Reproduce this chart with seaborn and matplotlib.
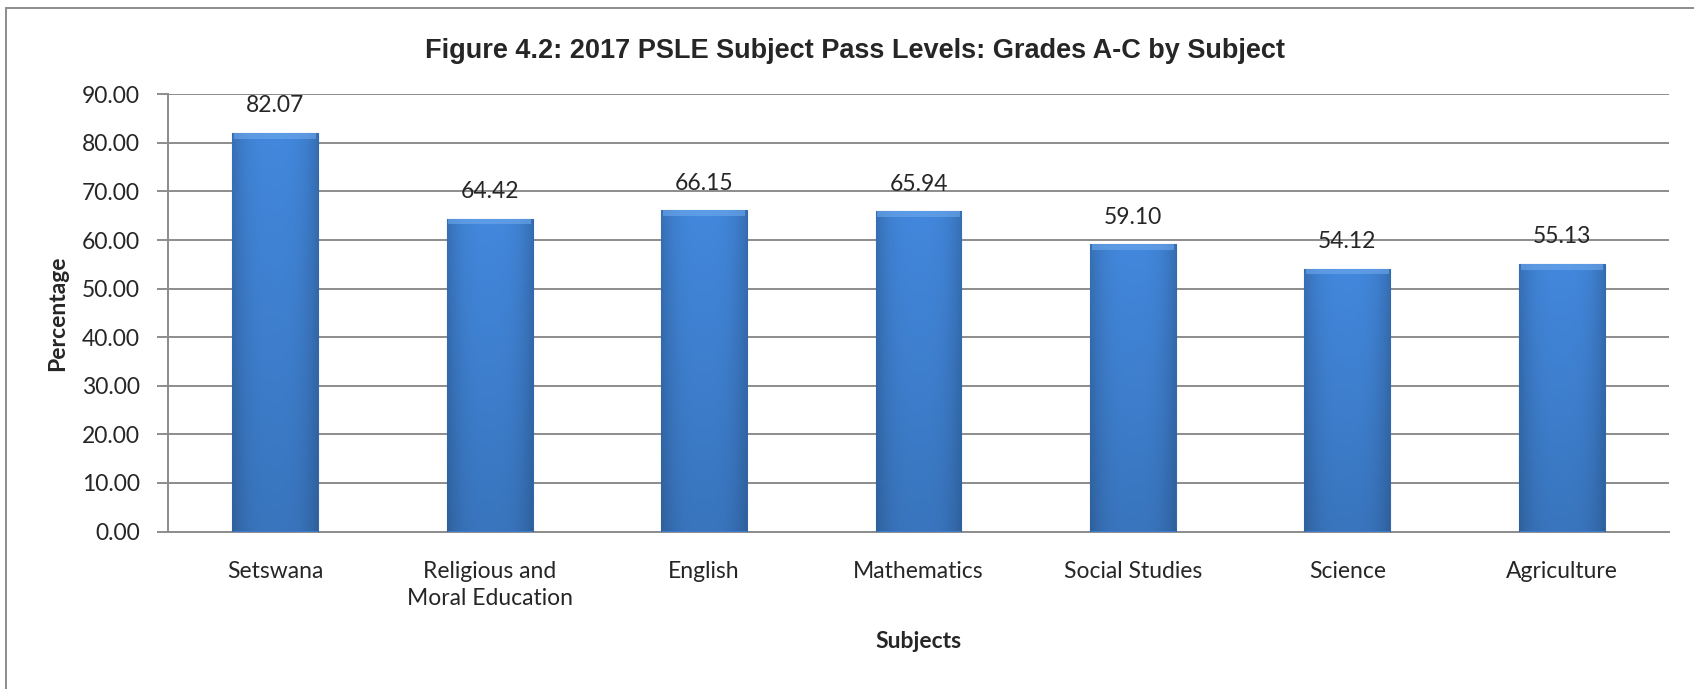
import matplotlib
matplotlib.use("Agg")
import matplotlib.pyplot as plt
import seaborn as sns
import numpy as np
import pandas as pd
from matplotlib.lines import Line2D

subjects = ["Setswana", "Religious and\nMoral Education", "English", "Mathematics",
            "Social Studies", "Science", "Agriculture"]
values = [82.07, 64.42, 66.15, 65.94, 59.10, 54.12, 55.13]
y_ticks = [0, 10, 20, 30, 40, 50, 60, 70, 80, 90]

sns.set_theme(style="white")
plt.rcParams['font.family'] = ['Lato', 'DejaVu Sans']

df = pd.DataFrame({"Subject": subjects, "Percentage": values})

fig = plt.figure(figsize=(16.94, 6.89), dpi=100)
ax = fig.add_axes([168/1694, 1-531.5/689, (1669-168)/1694, (531.5-94.3)/689])

sns.barplot(data=df, x="Subject", y="Percentage", color="#3E7ECF", width=0.4,
            ax=ax, edgecolor="#3467AC", linewidth=0.8, saturation=1, zorder=3)

# gentle bevel-like shading on bars
nx, ny = 64, 128
gx = np.linspace(0, 1, nx)
gy = np.linspace(0, 1, ny)[:, None]  # 0 = top of image row
horiz = 1 - 0.18 * (np.abs(gx - 0.5) * 2) ** 3
vert = 1.02 - 0.14 * gy
base = np.array([0x41, 0x85, 0xD8]) / 255.0
img = np.clip(base[None, None, :] * (horiz[None, :] * vert)[:, :, None], 0, 1)
for p in ax.patches:
    x0, y0 = p.get_x(), p.get_y()
    w, h = p.get_width(), p.get_height()
    im = ax.imshow(img, extent=[x0, x0 + w, y0, y0 + h], aspect="auto",
                   zorder=3.5, interpolation="bilinear")
    im.set_clip_path(p)
    ax.fill_between([x0 + w * 0.02, x0 + w * 0.98], y0 + h - 1.2, y0 + h,
                    color="#6FA9EC", alpha=0.6, zorder=3.6, linewidth=0)

ax.set_ylim(0, 90)
ax.set_xlim(-0.5, len(subjects) - 0.5)
ax.set_yticks(y_ticks)
ax.set_yticklabels([f"{v:.2f}" for v in y_ticks], fontsize=16.5)
ax.yaxis.grid(True, color="#8C8C8C", linewidth=1.4, zorder=0)
ax.set_axisbelow(True)

ax.set_xticks(np.arange(len(subjects)))
ax.set_xticklabels(subjects, fontsize=16.5, linespacing=1.35)
ax.tick_params(axis="x", length=0, pad=21)
ax.set_xticks(np.arange(len(subjects) + 1) - 0.5, minor=True)
ax.tick_params(axis="x", which="minor", length=8, width=1.4, color="#8C8C8C", direction="out")
ax.tick_params(axis="y", length=8, width=1.4, color="#8C8C8C", direction="out", pad=12, left=True)

for side in ["top", "right"]:
    ax.spines[side].set_visible(False)
for side in ["left", "bottom"]:
    ax.spines[side].set_color("#8C8C8C")
    ax.spines[side].set_linewidth(1.4)

ax.set_xlabel("Subjects", fontsize=16.5, fontweight="bold", labelpad=16)
ax.set_ylabel("Percentage", fontsize=16.5, fontweight="bold", labelpad=10)

for i, v in enumerate(values):
    ax.annotate(f"{v:.2f}", xy=(i, v), xytext=(0, 27 * 0.72), textcoords="offset points",
                ha="center", va="center", fontsize=16.5, annotation_clip=False)

fig.text(0.505, 1 - 51/689, "Figure 4.2: 2017 PSLE Subject Pass Levels: Grades A-C by Subject",
         ha="center", va="center", fontsize=19.5, fontweight="bold",
         family=["Liberation Sans", "DejaVu Sans"])

fig.add_artist(Line2D([6/1694, 6/1694], [0, 1 - 8/689], transform=fig.transFigure,
                      color="#8C8C8C", linewidth=1.4))
fig.add_artist(Line2D([6/1694, 1], [1 - 8/689, 1 - 8/689], transform=fig.transFigure,
                      color="#8C8C8C", linewidth=1.4))

fig.savefig("out.png", dpi=100)
